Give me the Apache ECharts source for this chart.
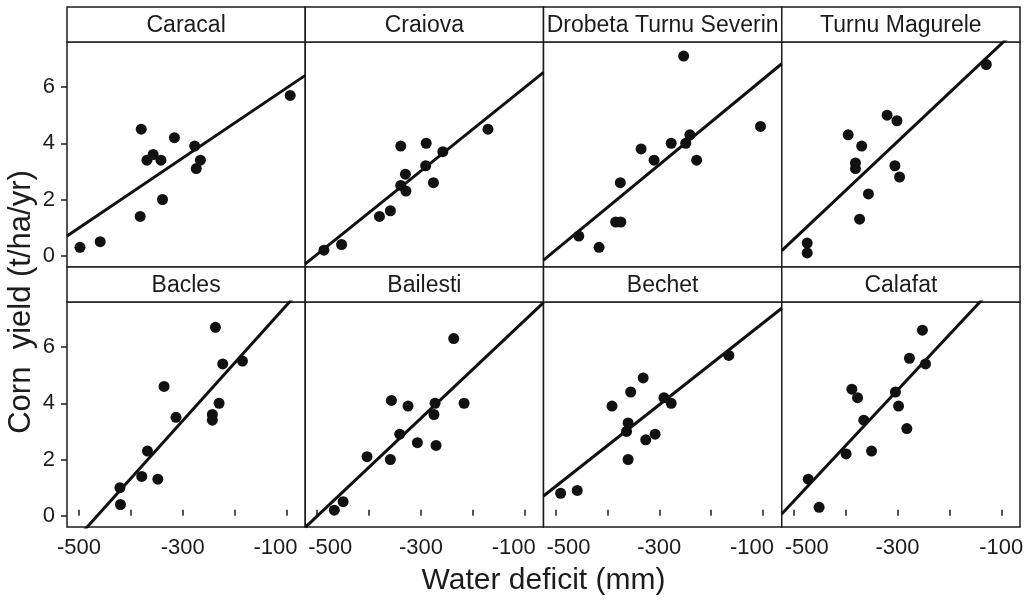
<!DOCTYPE html>
<html>
<head>
<meta charset="utf-8">
<title>Corn yield vs water deficit</title>
<script src="https://cdn.jsdelivr.net/npm/echarts@6/dist/echarts.min.js"></script>
<style>
  html, body { margin: 0; padding: 0; background: #fff; }
  #chart { width: 1029px; height: 600px; }
</style>
</head>
<body>
<div id="chart"></div>
<script>
const stations = ['Caracal', 'Craiova', 'Drobeta Turnu Severin', 'Turnu Magurele',
  'Bacles', 'Bailesti', 'Bechet', 'Calafat']

// [water deficit (mm), corn yield (t/ha/yr)]
const caracal = [[-498, 0.3], [-459, 0.5], [-382, 1.4], [-380, 4.5], [-369, 3.4], [-357, 3.6], [-342, 3.4],
  [-339, 2.0], [-316, 4.2], [-277, 3.9], [-266, 3.4], [-274, 3.1], [-93, 5.7]]
const craiova = [[-487, 0.2], [-453, 0.4], [-380, 1.4], [-359, 1.6], [-339, 3.9], [-339, 2.5], [-330, 2.9],
  [-329, 2.3], [-290, 4.0], [-291, 3.2], [-276, 2.6], [-258, 3.7], [-171, 4.5]]
const drobeta = [[-455, 0.7], [-416, 0.3], [-384, 1.2], [-374, 1.2], [-375, 2.6], [-335, 3.8], [-310, 3.4],
  [-277, 4.0], [-249, 4.0], [-241, 4.3], [-228, 3.4], [-253, 7.1], [-105, 4.6]]
const turnuMagurele = [[-474, 0.45], [-474, 0.1], [-395, 4.3], [-369, 3.9], [-381, 3.3], [-381, 3.1], [-356, 2.2],
  [-373, 1.3], [-320, 5.0], [-301, 4.8], [-305, 3.2], [-296, 2.8], [-129, 6.8]]
const bacles = [[-421, 1.0], [-420, 0.4], [-379, 1.4], [-368, 2.3], [-348, 1.3], [-336, 4.6], [-313, 3.5],
  [-243, 3.6], [-243, 3.4], [-230, 4.0], [-237, 6.7], [-223, 5.4], [-185, 5.5]]
const bailesti = [[-467, 0.2], [-450, 0.5], [-404, 2.1], [-359, 2.0], [-357, 4.1], [-341, 2.9], [-325, 3.9],
  [-307, 2.6], [-273, 4.0], [-275, 3.6], [-271, 2.5], [-237, 6.3], [-217, 4.0]]
const bechet = [[-490, 0.8], [-458, 0.9], [-391, 3.9], [-360, 3.3], [-363, 3.0], [-360, 2.0], [-355, 4.4],
  [-331, 4.9], [-326, 2.7], [-308, 2.9], [-291, 4.2], [-277, 4.0], [-166, 5.7]]
const calafat = [[-472, 1.3], [-451, 0.3], [-399, 2.2], [-388, 4.5], [-377, 4.2], [-365, 3.4], [-350, 2.3],
  [-304, 4.4], [-298, 3.9], [-282, 3.1], [-277, 5.6], [-246, 5.4], [-252, 6.6]]

// fitted lines: yield = intercept + slope * deficit
const fitIntercept = [7.21, 7.47, 7.80, 9.27, 9.54, 8.69, 8.31, 10.39]
const fitSlope = [0.01245, 0.01484, 0.01521, 0.01737, 0.02053, 0.01741, 0.01455, 0.01975]

const xTicks = [-500, -400, -300, -200, -100]
const xLabels = [-500, -300, -100]
const yTicks = [0, 2, 4, 6]
const xRange = [-523, -64]
const yRange = [-0.4, 7.6]

const panels = [caracal, craiova, drobeta, turnuMagurele, bacles, bailesti, bechet, calafat]

const FONT = 'Liberation Sans, Arial, Helvetica, sans-serif'
const INK = '#1c1c1c'
const plotLeft = 67
const panelW = 238.25
const stripTops = [7, 267]
const stripH = 35
const plotH = 225
const labelFont = { fontFamily: FONT, fontSize: 22, color: INK }

const grids = []
const xAxes = []
const yAxes = []
const series = []
const graphics = []

panels.forEach((points, i) => {
  const col = i % 4
  const row = Math.floor(i / 4)
  const left = plotLeft + col * panelW
  const top = stripTops[row] + stripH

  grids.push({
    left, top, width: panelW, height: plotH,
    show: true, borderColor: INK, borderWidth: 1.5, backgroundColor: '#fff',
  })

  xAxes.push({
    gridIndex: i,
    type: 'value',
    min: xRange[0],
    max: xRange[1],
    axisLine: { show: false },
    splitLine: { show: false },
    axisTick: {
      show: row === 1,
      inside: true,
      length: 6,
      customValues: xTicks,
      lineStyle: { color: INK, width: 1.5 },
    },
    axisLabel: {
      show: row === 1,
      customValues: xLabels,
      margin: 10,
      ...labelFont,
      // neighbouring panels push their end labels apart
      formatter: (v) => {
        if (v === xLabels[0] && col > 0) return '{r|' + v + '}'
        if (v === xLabels[xLabels.length - 1] && col < 3) return '{l|' + v + '}'
        return String(v)
      },
      rich: {
        r: { ...labelFont, padding: [0, 0, 0, 26] },
        l: { ...labelFont, padding: [0, 22, 0, 0] },
      },
    },
  })

  yAxes.push({
    gridIndex: i,
    type: 'value',
    min: yRange[0],
    max: yRange[1],
    axisLine: { show: false },
    splitLine: { show: false },
    axisTick: {
      show: col === 0,
      length: 6,
      customValues: yTicks,
      lineStyle: { color: INK, width: 1.5 },
    },
    axisLabel: {
      show: col === 0,
      customValues: yTicks,
      margin: 12,
      ...labelFont,
    },
  })

  series.push({
    type: 'line',
    xAxisIndex: i,
    yAxisIndex: i,
    showSymbol: false,
    clip: true,
    silent: true,
    lineStyle: { color: '#111', width: 3 },
    data: xRange.map((x) => [x, fitIntercept[i] + fitSlope[i] * x]),
  })

  series.push({
    type: 'scatter',
    xAxisIndex: i,
    yAxisIndex: i,
    symbolSize: 11,
    itemStyle: { color: '#111', opacity: 1 },
    data: points,
  })

  graphics.push({
    type: 'rect',
    shape: { x: left, y: stripTops[row], width: panelW, height: stripH },
    style: { fill: '#fff', stroke: INK, lineWidth: 1.5 },
  })
  graphics.push({
    type: 'text',
    x: left + panelW / 2,
    y: stripTops[row] + stripH / 2 + 1,
    style: {
      text: stations[i],
      fontFamily: FONT,
      fontSize: 23,
      fill: INK,
      align: 'center',
      verticalAlign: 'middle',
    },
  })
})

graphics.push({
  type: 'text',
  x: plotLeft + 2 * panelW,
  y: 581,
  style: {
    text: 'Water deficit (mm)',
    fontFamily: FONT,
    fontSize: 30,
    fill: INK,
    align: 'center',
    verticalAlign: 'middle',
  },
})
graphics.push({
  type: 'text',
  x: 21,
  y: 302,
  rotation: Math.PI / 2,
  style: {
    text: 'Corn  yield (t/ha/yr)',
    fontFamily: FONT,
    fontSize: 31,
    fill: INK,
    align: 'center',
    verticalAlign: 'middle',
  },
})

const chart = echarts.init(document.getElementById('chart'))
chart.setOption({
  animation: false,
  backgroundColor: '#fff',
  grid: grids,
  xAxis: xAxes,
  yAxis: yAxes,
  series,
  graphic: graphics,
})
</script>
</body>
</html>
